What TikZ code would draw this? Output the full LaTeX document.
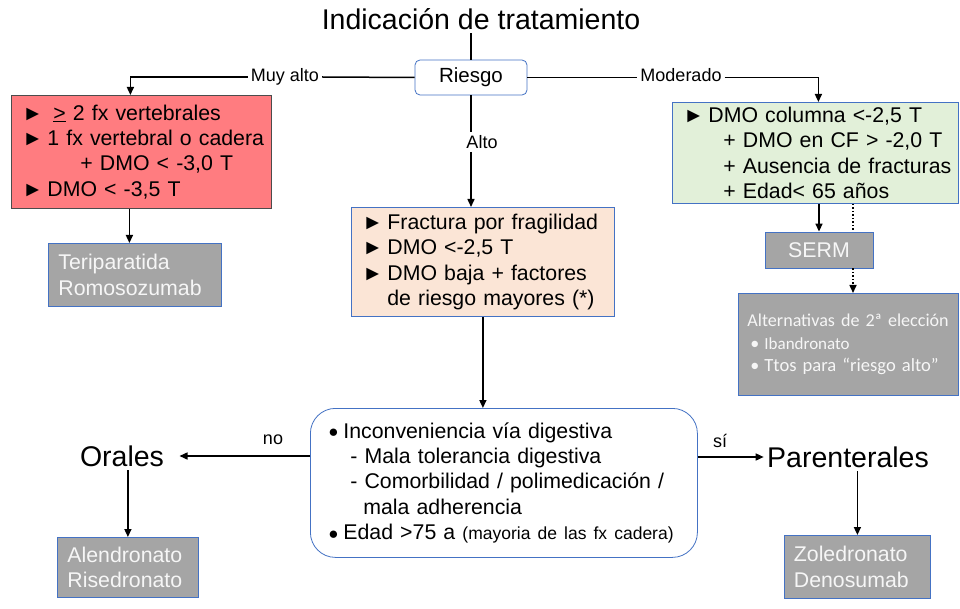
\documentclass[tikz,border=0pt]{standalone}
\usepackage{fontspec}
\setmainfont{Liberation Sans}
\newfontfamily\carl{Carlito}
\usetikzlibrary{arrows.meta}
\definecolor{bord}{HTML}{4472C4}
\definecolor{redfill}{HTML}{FF7C80}
\definecolor{greenfill}{HTML}{E2F0D9}
\definecolor{orangefill}{HTML}{FBE5D6}
\definecolor{grayfill}{HTML}{A5A5A5}
\definecolor{graytext}{HTML}{F6F6F6}
\newcommand\trib{\makebox[25pt][l]{\fontsize{21}{21}\selectfont ►}}
\newcommand\dotb{\makebox[15pt][l]{\raisebox{0.5pt}{\fontsize{17}{17}\selectfont ●}}}
\begin{document}
\begin{tikzpicture}[x=1pt,y=-1pt,
  ln/.style={line width=1.5pt},
  arr/.style={line width=1.5pt,-{Triangle[length=8pt,width=7pt]}},
  dotarr/.style={line width=1.5pt,dotted,-{Triangle[length=8pt,width=7pt]}},
  boxbase/.style={anchor=north west,inner ysep=0pt,align=left,
    font=\fontsize{21.3}{25.4}\selectfont},
  redbox/.style={boxbase,draw=black!70,line width=0.8pt,fill=redfill,inner xsep=11pt},
  greenbox/.style={boxbase,draw=bord,line width=0.8pt,fill=greenfill,inner xsep=11pt},
  orangebox/.style={boxbase,draw=bord,line width=0.8pt,fill=orangefill,inner xsep=11pt},
  graybox/.style={boxbase,draw=bord,line width=0.8pt,fill=grayfill,text=graytext,inner xsep=10pt},
  lbl/.style={font=\fontsize{18}{20}\selectfont,fill=white,inner sep=3pt},
  big/.style={font=\fontsize{28.5}{30}\selectfont}
]
\useasboundingbox (0,0) rectangle (960,609);
\fill[white] (0,0) rectangle (960,609);

% title and risk
\node[big] (title) at (481,19) {Indicación de tratamiento};
\node[draw=bord,line width=0.8pt,rounded corners=5pt,fill=white,minimum width=112pt,minimum height=35pt,
  font=\fontsize{20.5}{22}\selectfont] (riesgo) at (471,77.5) {Riesgo};
\draw[ln] (riesgo.north |- title.south) -- (riesgo.north);

% very high
\node[redbox,minimum width=260pt,minimum height=113pt,text width=238pt] (red) at (11,95) {%
\mbox{\trib\hspace{6pt}\underline{>} 2 fx vertebrales}\\
\mbox{\trib 1 fx vertebral o cadera}\\
\mbox{\hspace*{58pt}+ DMO < -3,0 T}\\
\mbox{\trib DMO < -3,5 T}};
\node[lbl] (muy) at (285,77) {Muy alto};
\draw[ln] (riesgo.west) -- (muy.east);
\draw[arr] (muy.west) -| ([xshift=-11pt]red.north);

\node[graybox,minimum width=173pt,minimum height=63pt,text width=153pt] (teri) at (48,243) {%
Teriparatida\\Romosozumab};
\draw[arr] ([xshift=-12pt]red.south) -- ([xshift=-12pt]red.south |- teri.north);

% moderate
\node[greenbox,minimum width=286pt,minimum height=101pt,text width=264pt] (green) at (672,102) {%
\mbox{\trib DMO columna <-2,5 T}\\
\mbox{\hspace*{40pt}+ DMO en CF > -2,0 T}\\
\mbox{\hspace*{40pt}+ Ausencia de fracturas}\\
\mbox{\hspace*{40pt}+ Edad< 65 años}};
\node[lbl] (mod) at (681,75) {Moderado};
\coordinate (modw) at (mod.west |- riesgo.east);
\coordinate (mode) at (mod.east |- riesgo.east);
\draw[ln] (riesgo.east) -- (modw);
\draw[arr] (mode) -| ([xshift=3pt]green.north);

\node[graybox,anchor=center,minimum width=108pt,minimum height=36pt,align=center] (serm) at (819,250) {SERM};
\draw[arr] (green.south -| serm) -- (serm.north);
\draw[ln,dotted] ([xshift=34pt]green.south -| serm) -- ([xshift=34pt]serm.north);

\node[graybox,minimum width=220pt,minimum height=102pt,text width=202pt,inner xsep=9pt,
  font=\carl\fontsize{18.1}{22.5}\selectfont] (alt) at (738,293) {%
\mbox{Alternativas de 2ª elección}\\
\mbox{\hspace*{3pt}\makebox[14pt][l]{•}{\fontsize{17}{22.5}\selectfont Ibandronato}}\\
\mbox{\hspace*{3pt}\makebox[14pt][l]{•}{\fontsize{18.6}{22.5}\selectfont Ttos para “riesgo alto”}}};
\draw[dotarr] ([xshift=34pt]serm.south) -- ([xshift=34pt]serm.south |- alt.north);

% high
\node[orangebox,minimum width=263pt,minimum height=109pt,text width=241pt] (orange) at (351,207) {%
\mbox{\trib Fractura por fragilidad}\\
\mbox{\trib DMO <-2,5 T}\\
\mbox{\trib DMO baja + factores}\\
\mbox{\hspace*{25pt}de riesgo mayores (*)}};
\node[lbl] (alto) at (482,142) {Alto};
\draw[ln] (riesgo.south) -- (riesgo.south |- alto.north);
\draw[arr] (riesgo.south |- alto.south) -- (riesgo.south |- orange.north);

% route
\node[boxbase,draw=bord,line width=0.8pt,rounded corners=25pt,fill=white,inner xsep=18pt,
  minimum width=387pt,minimum height=149pt,text width=351pt] (route) at (310,408) {%
\mbox{\dotb Inconveniencia vía digestiva}\\
\mbox{\hspace*{22pt}- Mala tolerancia digestiva}\\
\mbox{\hspace*{22pt}- Comorbilidad / polimedicación /}\\
\mbox{\hspace*{35pt}mala adherencia}\\
\mbox{\dotb Edad >75 a {\fontsize{17.5}{25.4}\selectfont (mayoria de las fx cadera)}}};
\draw[arr] (orange.south) -- (orange.south |- route.north);

\node[big] (orales) at (122,456) {Orales};
\node[big] (parent) at (848,457) {Parenterales};
\draw[arr] (route.west |- orales) -- ([xshift=12pt]orales.east);
\draw[arr] (route.east |- parent) -- (parent.west);
\node[font=\fontsize{18}{20}\selectfont] (no) at (273,440) {no};
\node[font=\fontsize{18}{20}\selectfont] (si) at (720,441) {sí};

\node[graybox,minimum width=141pt,minimum height=60pt,text width=121pt] (alen) at (57,537) {%
Alendronato\\Risedronato};
\node[graybox,minimum width=146pt,minimum height=63pt,text width=127pt,inner xsep=9pt] (zol) at (784,535) {%
Zoledronato\\Denosumab};
\draw[arr] (orales.south -| alen) -- (alen.north);
\draw[arr] (parent.south -| zol) -- (zol.north);
\end{tikzpicture}
\end{document}
